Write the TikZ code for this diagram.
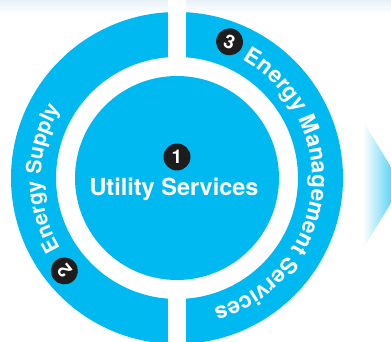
\documentclass[tikz,border=0pt]{standalone}
\usepackage{fontspec}
\setmainfont{TeX Gyre Heros}
\usetikzlibrary{decorations.text}
\definecolor{ringblue}{RGB}{0,185,241}
\definecolor{badgeblack}{RGB}{30,28,29}
\definecolor{haze}{RGB}{232,242,249}
\begin{document}
\begin{tikzpicture}[x=1pt,y=1pt,
  badge/.style={circle, fill=badgeblack, text=white, minimum size=27pt, inner sep=0pt,
    font=\bfseries\fontsize{19}{19}\selectfont},
  arclabel/.style={decorate, decoration={text along path, text align=left, text={#1}}}]
\useasboundingbox (0,0) rectangle (391,342);
\clip (0,0) rectangle (391,342);
% soft band along the top edge
\shade[top color=haze, bottom color=white] (0,328) rectangle (391,342);
\coordinate (c) at (177,164);
% outer ring, split into two halves by a vertical gap
\fill[ringblue, even odd rule] (c) circle[radius=166] (c) circle[radius=121];
\fill[white] (167.5,0) rectangle (185.5,342);
% centre disc
\fill[ringblue] (c) circle[radius=102];
% faded arrow on the right
\shade[left color=white, right color=ringblue!85] (363,221) -- (363,93) -- (402,157) -- cycle;
% centre label
\node[badge] (b1) at (177,185) {1};
\node[anchor=base, text=white, font=\bfseries\fontsize{23.5}{23.5}\selectfont, inner sep=0pt]
  (util) at (174,146) {Utility Services};
% ring labels
\node[badge, rotate=129.5] (b2) at ([shift={(219.5:146)}]c) {2};
\node[badge, rotate=-21] (b3) at ([shift={(68.9:146)}]c) {3};
\path[arclabel={|\color{white}\bfseries\fontsize{21}{21}\selectfont|Energy Supply}]
  ([shift={(211:136)}]c) arc[start angle=211, end angle=140, radius=136];
\path[arclabel={|\color{white}\bfseries\fontsize{22.5}{22.5}\selectfont|Energy Management Services}]
  ([shift={(61:135)}]c) arc[start angle=61, end angle=-85, radius=135];
\end{tikzpicture}
\end{document}
